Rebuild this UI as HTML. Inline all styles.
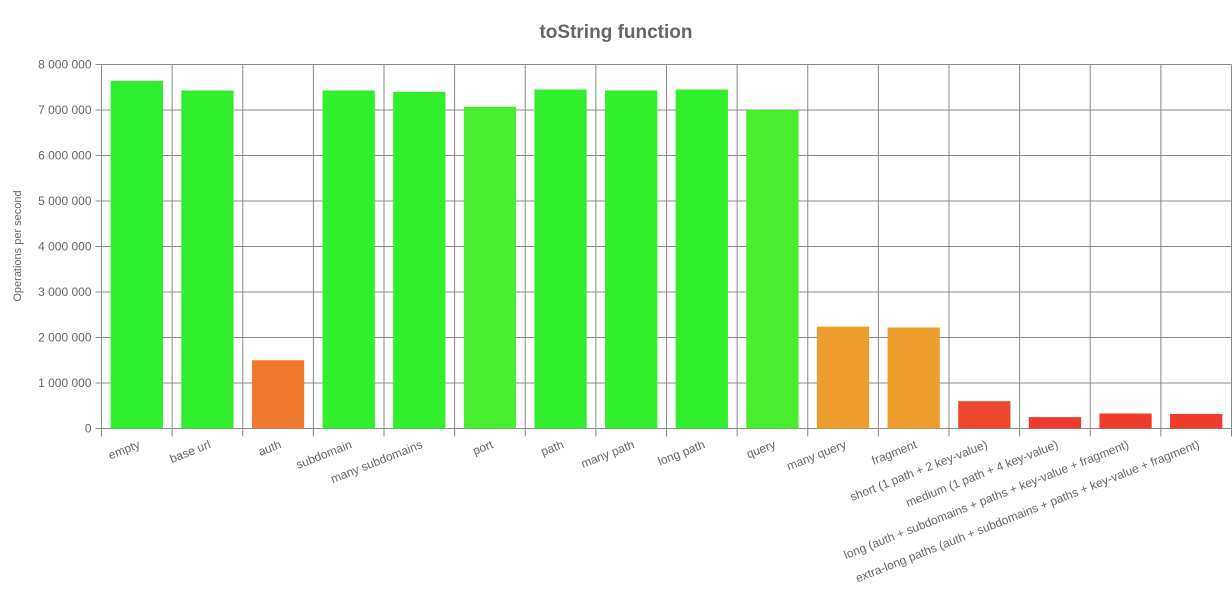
<!DOCTYPE html>
<html><head><meta charset="utf-8"><style>
body{margin:0;background:#fff;font-family:"Liberation Sans",sans-serif}
svg text{font-family:"Liberation Sans",sans-serif}
</style></head><body>
<svg id="chart" width="1232" height="591">
<text x="616" y="38" text-anchor="middle" font-size="19" font-weight="bold" fill="#666">toString function</text>
<text transform="translate(21,246) rotate(-90)" text-anchor="middle" font-size="11" fill="#666">Operations per second</text>
<g id="grid"></g><g id="bars"></g><g id="labels"></g>
</svg>
<script>
const categories=["empty","base url","auth","subdomain","many subdomains","port","path","many path","long path","query","many query","fragment","short (1 path + 2 key-value)","medium (1 path + 4 key-value)","long (auth + subdomains + paths + key-value + fragment)","extra-long paths (auth + subdomains + paths + key-value + fragment)"];
const values=[7640000,7430000,1500000,7430000,7400000,7070000,7450000,7430000,7450000,7000000,2240000,2220000,600000,250000,330000,320000];
const barColors=["#2def2d","#33ee2d","#ef7a2d","#33ee2d","#33ee2d","#47ee2d","#33ee2d","#33ee2d","#33ee2d","#4aed2d","#ee9e2d","#ee9e2d","#ee472d","#ee3a2d","#ef3d2d","#ef3d2d"];
const yTicks=[0,1000000,2000000,3000000,4000000,5000000,6000000,7000000,8000000];
const ns="http://www.w3.org/2000/svg";
const X0=101.5,X1=1231.5,Y0=428.5,Y1=64.5,YMAX=8000000;
const bw=(X1-X0)/categories.length;
const y=v=>Y0-(v/YMAX)*(Y0-Y1);
const x=i=>X0+i*bw;
function mk(t,a,p){const e=document.createElementNS(ns,t);for(const k in a)e.setAttribute(k,a[k]);p.appendChild(e);return e;}
const grid=document.getElementById('grid'),bars=document.getElementById('bars'),labels=document.getElementById('labels');
yTicks.forEach(t=>{
 const l=mk('line',{x1:X0-6,x2:X1,y1:y(t),y2:y(t),stroke:'#888','stroke-width':1},grid);
 
 
 const tx=mk('text',{x:X0-10,y:y(t)+4,'text-anchor':'end','font-size':12,fill:'#666'},grid);
 tx.textContent=t.toLocaleString('en-US').replace(/,/g,' ');
 
 
});
for(let i=0;i<=categories.length;i++){
 const l=mk('line',{x1:x(i),x2:x(i),y1:Y1,y2:Y0+8,stroke:'#888','stroke-width':1},grid);
 
 
}
categories.forEach((c,i)=>{
 const w=bw*0.74,bx=x(i)+(bw-w)/2;
 const r=mk('rect',{x:bx,y:y(values[i]),width:w,height:Y0-y(values[i]),fill:barColors[i]},bars);
 
 
 const cx=x(i)+bw/2+4,cy=Y0+19;
 const t=mk('text',{x:cx,y:cy,'text-anchor':'end','font-size':12,fill:'#666',transform:`rotate(-21.5 ${cx} ${cy})`},labels);
 t.textContent=c;
 
 
});
</script>
</body></html>
